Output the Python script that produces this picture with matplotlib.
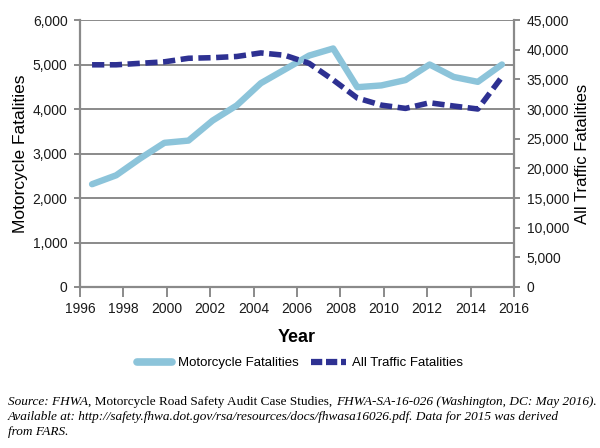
import numpy as np
import matplotlib
matplotlib.use("Agg")
import matplotlib.pyplot as plt
from matplotlib.lines import Line2D
from matplotlib.ticker import FuncFormatter

# data
years = [1998, 1999, 2000, 2001, 2002, 2003, 2004, 2005, 2006,
         2007, 2008, 2009, 2010, 2011, 2012, 2013, 2014, 2015]
moto = [2310, 2510, 2890, 3240, 3290, 3740, 4080, 4580, 4890,
        5200, 5360, 4490, 4530, 4650, 5000, 4720, 4610, 5000]
traffic = [37450, 37450, 37700, 37950, 38550, 38650, 38850, 39450, 39050,
           37700, 34900, 31850, 30650, 30100, 31050, 30500, 30000, 35400]
year_ticks = list(range(1996, 2017, 2))

moto_col = "#8cc4da"
traf_col = "#2e3192"
grey = "#8a8a8a"
txt = "#1a1a1a"
sans = ["Liberation Sans Narrow", "Liberation Sans", "DejaVu Sans"]
serif = ["Liberation Serif", "DejaVu Serif"]

plt.rcParams["font.family"] = sans

fig = plt.figure(figsize=(6.0, 4.48), dpi=100)
ax = fig.add_axes([80/600, 1-287/448, 434/600, 267/448])

# motorcycle series on the left axis (category positions)
ax.plot(years, moto, color=moto_col, lw=4.6, solid_joinstyle="round",
        solid_capstyle="round", zorder=3)
ax.set_xlim(1997.5, 2015.5)
ax.set_ylim(0, 6000)
ax.set_yticks(range(0, 6001, 1000))
ax.yaxis.set_major_formatter(FuncFormatter(lambda v, p: "{:,.0f}".format(v)))
ax.set_xticks([])
ax.grid(axis="y", color=grey, lw=1.4)
ax.set_axisbelow(True)
ax.tick_params(axis="y", direction="out", length=4, width=1.4, color=grey,
               labelsize=10, labelcolor=txt, pad=5)
for s in ["top", "right"]:
    ax.spines[s].set_visible(False)
for s in ["left", "bottom"]:
    ax.spines[s].set_color(grey)
    ax.spines[s].set_linewidth(1.6)
ax.set_ylabel("Motorcycle Fatalities", fontsize=12.5, color="black", labelpad=3)

# all traffic on the right axis
ax2 = ax.twinx()
ax2.plot(years, traffic, color=traf_col, lw=4.0, linestyle=(0, (2.2, 1.0)),
         dash_capstyle="butt", zorder=4)
ax2.set_ylim(0, 45000)
ax2.set_yticks(range(0, 45001, 5000))
ax2.yaxis.set_major_formatter(FuncFormatter(lambda v, p: "{:,.0f}".format(v)))
ax2.tick_params(axis="y", direction="out", length=4, width=1.4, color=grey,
                labelsize=10, labelcolor=txt, pad=5)
for s in ["top", "left", "bottom"]:
    ax2.spines[s].set_visible(False)
ax2.spines["right"].set_color(grey)
ax2.spines["right"].set_linewidth(1.6)
ax2.set_ylabel("All Traffic Fatalities", fontsize=12, color="black", labelpad=4)

# year labels on a separate axis
ax3 = ax.twiny()
ax3.set_xlim(1996, 2016)
ax3.set_xticks(year_ticks)
ax3.xaxis.tick_bottom()
ax3.xaxis.set_label_position("bottom")
ax3.tick_params(axis="x", direction="out", length=7, width=1.4, color=grey,
                labelsize=10, labelcolor=txt, pad=4)
for s in ["top", "left", "right", "bottom"]:
    ax3.spines[s].set_visible(False)
ax3.set_xlabel("Year", fontsize=13, fontweight="bold", labelpad=9)

handles = [Line2D([], [], color=moto_col, lw=5.5, solid_capstyle="round"),
           Line2D([], [], color=traf_col, lw=4.5, linestyle=(0, (1.8, 0.6)))]
fig.legend(handles, ["Motorcycle Fatalities", "All Traffic Fatalities"],
           loc="center", bbox_to_anchor=(0.5, 1-363/448), ncol=2, frameon=False,
           fontsize=9.5, handlelength=2.6, columnspacing=1.0, handletextpad=0.45)

# source note with mixed italic / roman runs
r = fig.canvas.get_renderer()
def runs(y, parts):
    x = 8
    for s, st in parts:
        t = fig.text(x/600, 1-y/448, s, family=serif, fontstyle=st, fontsize=9.5,
                     va="baseline", color="black")
        x = t.get_window_extent(renderer=r).x1

runs(405, [("Source: FHWA", "italic"),
           (", Motorcycle Road Safety Audit Case Studies, ", "normal"),
           ("FHWA-SA-16-026 (Washington, DC: May 2016).", "italic")])
runs(420, [("Available at: http://safety.fhwa.dot.gov/rsa/resources/docs/fhwasa16026.pdf. "
            "Data for 2015 was derived", "italic")])
runs(435, [("from FARS.", "italic")])

fig.savefig("out.png", dpi=100)
